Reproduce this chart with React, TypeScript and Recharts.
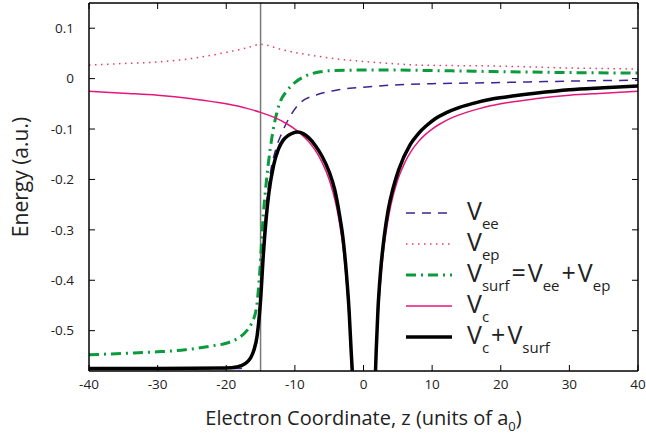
import { LineChart, Line, XAxis, YAxis, ReferenceLine, Label } from "recharts";

const FONT = "'Open Sans', sans-serif";

// z positions (units of a0) and energies (a.u.)
const veeZ = [-40, -30, -20, -18, -17, -16.3, -15.6, -15.1, -14.6, -14.2, -13.6, -12.8, -11.9, -10.7, -9.3, -6.8, -4, -2, 0, 4.6, 10, 18.9, 30, 40];
const veeV = [-0.575, -0.575, -0.575, -0.575, -0.565, -0.55, -0.52, -0.45, -0.34, -0.26, -0.19, -0.141, -0.108, -0.075, -0.049, -0.032, -0.023, -0.019, -0.017, -0.0125, -0.01, -0.008, -0.005, -0.003];

const vepZ = [-40, -35, -30, -25, -20, -17, -15, -12, -9.3, -7, -4.4, 0, 4, 7.8, 12, 18.9, 25, 30, 35, 40];
const vepV = [0.027, 0.03, 0.033, 0.04, 0.052, 0.061, 0.068, 0.058, 0.05, 0.045, 0.04, 0.034, 0.03, 0.027, 0.026, 0.025, 0.023, 0.021, 0.02, 0.019];

const vsurfZ = [-40, -35, -30, -26, -22, -20, -18.3, -17, -16.3, -15.6, -15.1, -14.6, -14.2, -13.6, -13, -12.2, -11.2, -10, -8.3, -6.5, -4.4, 0, 5, 10, 19, 30, 40];
const vsurfV = [-0.548, -0.545, -0.542, -0.538, -0.53, -0.525, -0.515, -0.5, -0.485, -0.455, -0.38, -0.27, -0.21, -0.14, -0.09, -0.048, -0.025, -0.008, 0.006, 0.013, 0.016, 0.017, 0.017, 0.016, 0.014, 0.012, 0.011];

const vcLeftZ = [-40, -35, -30, -25, -20, -17, -15, -13, -11, -10, -9, -8, -7, -6, -5, -4, -3.5, -3, -2.5, -2, -1.7, -1.55];
const vcLeftV = [-0.025, -0.029, -0.033, -0.04, -0.05, -0.059, -0.067, -0.077, -0.091, -0.1, -0.111, -0.125, -0.143, -0.167, -0.2, -0.25, -0.286, -0.333, -0.4, -0.5, -0.588, -0.645];
const vcRightZ = [1.55, 1.7, 2, 2.5, 3, 3.5, 4, 5, 6, 7, 8, 9, 10, 11, 13, 15, 17, 20, 25, 30, 35, 40];
const vcRightV = [-0.645, -0.588, -0.5, -0.4, -0.333, -0.286, -0.25, -0.2, -0.167, -0.143, -0.125, -0.111, -0.1, -0.091, -0.077, -0.067, -0.059, -0.05, -0.04, -0.033, -0.029, -0.025];

const totLeftZ = [-40, -30, -20, -18.5, -17.3, -16.5, -16, -15.5, -15, -14.6, -14.2, -13.8, -13.1, -12.4, -11.7, -11, -10.3, -9.6, -8.8, -8, -7, -6, -5, -4.2, -3.5, -3, -2.5, -2.1, -1.8, -1.55];
const totLeftV = [-0.575, -0.575, -0.574, -0.572, -0.566, -0.555, -0.54, -0.51, -0.44, -0.35, -0.28, -0.228, -0.172, -0.14, -0.122, -0.113, -0.108, -0.106, -0.109, -0.117, -0.133, -0.155, -0.185, -0.22, -0.27, -0.315, -0.385, -0.46, -0.54, -0.6];
const totRightZ = [1.7, 1.85, 2.1, 2.5, 3, 3.6, 4.3, 5.1, 6.8, 8, 9.2, 10.5, 12, 14, 16, 18.9, 22, 25, 30, 35, 40];
const totRightV = [-0.6, -0.54, -0.46, -0.38, -0.315, -0.26, -0.218, -0.182, -0.131, -0.109, -0.093, -0.079, -0.068, -0.057, -0.049, -0.04, -0.034, -0.029, -0.022, -0.018, -0.0145];

const xTicks = [-40, -30, -20, -10, 0, 10, 20, 30, 40];
const yTicks = [-0.5, -0.4, -0.3, -0.2, -0.1, 0, 0.1];

const zip = (zs: number[], vs: number[]) => zs.map((z, i) => ({ z, v: vs[i] }));

const C_EE = "#3f2391";
const C_EP = "#ee3a62";
const C_SURF = "#0b9a3c";
const C_C = "#e5177d";

const legendRows = [
  { stroke: C_EE, width: 1.5, dash: "9 7" },
  { stroke: C_EP, width: 1.5, dash: "1.5 4.5" },
  { stroke: C_SURF, width: 3, dash: "10 5 2 5" },
  { stroke: C_C, width: 1.5, dash: undefined },
  { stroke: "#000", width: 3.5, dash: undefined },
];

function V({ sub }: { sub: string }) {
  return (
    <span>
      V<span style={{ fontSize: 15, position: "relative", top: 9 }}>{sub}</span>
    </span>
  );
}

function legendLabel(i: number) {
  const op = (s: string) => <span style={{ margin: "0 2px" }}>{s}</span>;
  if (i === 0) return <V sub="ee" />;
  if (i === 1) return <V sub="ep" />;
  if (i === 2)
    return (
      <>
        <V sub="surf" />
        {op("=")}
        <V sub="ee" />
        {op("+")}
        <V sub="ep" />
      </>
    );
  if (i === 3) return <V sub="c" />;
  return (
    <>
      <V sub="c" />
      {op("+")}
      <V sub="surf" />
    </>
  );
}

function KeyBox() {
  return (
    <div style={{ position: "absolute", left: 404, top: 197, fontFamily: FONT, color: "#222" }}>
      {legendRows.map((r, i) => (
        <div key={i} style={{ height: 31, display: "flex", alignItems: "center" }}>
          <svg width={50} height={12} style={{ marginRight: 13 }}>
            <line x1={2} y1={6} x2={48} y2={6} stroke={r.stroke} strokeWidth={r.width} strokeDasharray={r.dash} />
          </svg>
          <span style={{ fontSize: 25, lineHeight: "25px", whiteSpace: "nowrap" }}>{legendLabel(i)}</span>
        </div>
      ))}
    </div>
  );
}

const fmt = (v: number) => (v === 0 ? "0" : v.toFixed(1));
const axisLine = { stroke: "#000", strokeWidth: 1.5 };
const tickStyle = { fontSize: 13.5, fill: "#222", fontFamily: FONT };

export default function App() {
  return (
    <div style={{ position: "absolute", left: 0, top: 0, width: 646, height: 446, background: "#fff" }}>
      <LineChart width={646} height={446} margin={{ top: 2, right: 7, bottom: 0, left: 0 }}>
        <XAxis
          xAxisId="b"
          dataKey="z"
          type="number"
          domain={[-40, 40]}
          ticks={xTicks}
          allowDataOverflow
          height={75}
          axisLine={axisLine}
          tickLine={{ stroke: "#000" }}
          tickSize={-6}
          tickMargin={14}
          tick={tickStyle}
        >
          <Label
            content={(p: any) => {
              const vb = p.viewBox;
              return (
                <text x={vb.x + vb.width / 2} y={425} textAnchor="middle" fontSize={20} fontFamily={FONT} fill="#222">
                  Electron Coordinate, z (units of a
                  <tspan dy={6} fontSize={13}>0</tspan>
                  <tspan dy={-6}>)</tspan>
                </text>
              );
            }}
          />
        </XAxis>
        <XAxis
          xAxisId="t"
          orientation="top"
          dataKey="z"
          type="number"
          domain={[-40, 40]}
          ticks={xTicks}
          allowDataOverflow
          height={1}
          axisLine={axisLine}
          tickLine={{ stroke: "#000" }}
          tickSize={-6}
          tick={() => <g />}
        />
        <YAxis
          yAxisId="l"
          type="number"
          domain={[-0.58, 0.15]}
          ticks={yTicks}
          allowDataOverflow
          width={89}
          axisLine={axisLine}
          tickLine={{ stroke: "#000" }}
          tickSize={-6}
          tickMargin={21}
          tickFormatter={fmt}
          tick={tickStyle}
        >
          <Label
            content={() => (
              <text x={0} y={0} transform="translate(28,177) rotate(-90)" textAnchor="middle" fontSize={21} fontFamily={FONT} fill="#222">
                Energy (a.u.)
              </text>
            )}
          />
        </YAxis>
        <YAxis
          yAxisId="r"
          orientation="right"
          type="number"
          domain={[-0.58, 0.15]}
          ticks={yTicks}
          allowDataOverflow
          width={1}
          axisLine={axisLine}
          tickLine={{ stroke: "#000" }}
          tickSize={-6}
          tick={() => <g />}
        />
        <ReferenceLine xAxisId="b" yAxisId="l" x={-15} stroke="#7a7a7a" strokeWidth={1.5} />
        <Line xAxisId="b" yAxisId="l" data={zip(vepZ, vepV)} dataKey="v" type="monotone" stroke={C_EP} strokeWidth={1.5} strokeDasharray="1.5 4.5" dot={false} isAnimationActive={false} />
        <Line xAxisId="b" yAxisId="l" data={zip(veeZ, veeV)} dataKey="v" type="monotone" stroke={C_EE} strokeWidth={1.5} strokeDasharray="9 7" dot={false} isAnimationActive={false} />
        <Line xAxisId="b" yAxisId="l" data={zip(vsurfZ, vsurfV)} dataKey="v" type="monotone" stroke={C_SURF} strokeWidth={3} strokeDasharray="10 5 2 5" dot={false} isAnimationActive={false} />
        <Line xAxisId="b" yAxisId="l" data={zip(vcLeftZ, vcLeftV)} dataKey="v" type="monotone" stroke={C_C} strokeWidth={1.5} dot={false} isAnimationActive={false} />
        <Line xAxisId="b" yAxisId="l" data={zip(vcRightZ, vcRightV)} dataKey="v" type="monotone" stroke={C_C} strokeWidth={1.5} dot={false} isAnimationActive={false} />
        <Line xAxisId="b" yAxisId="l" data={zip(totLeftZ, totLeftV)} dataKey="v" type="monotone" stroke="#000" strokeWidth={3.5} dot={false} isAnimationActive={false} />
        <Line xAxisId="b" yAxisId="l" data={zip(totRightZ, totRightV)} dataKey="v" type="monotone" stroke="#000" strokeWidth={3.5} dot={false} isAnimationActive={false} />
      </LineChart>
      <KeyBox />
    </div>
  );
}
